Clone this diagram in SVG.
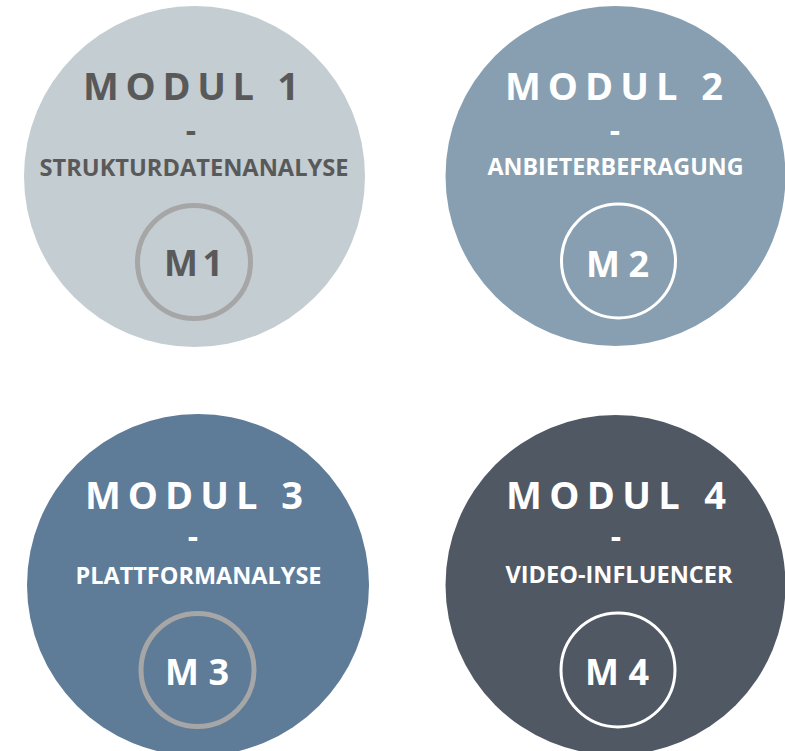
<svg xmlns="http://www.w3.org/2000/svg" width="785" height="751" viewBox="0 0 785 751">
<style>
  text { font-family: "Open Sans", "Noto Sans", "Liberation Sans", sans-serif; font-weight: 700; text-anchor: middle; }
  .title { font-size: 38px; }
  .dash { font-size: 32px; }
  .sub { font-size: 23px; }
  .code { font-size: 36px; }
  .dark { fill: #595959; }
  .light { fill: #ffffff; }
  .ringGray { fill: none; stroke: #a6a6a6; stroke-width: 5; }
  .ringWhite { fill: none; stroke: #ffffff; stroke-width: 3; }
</style>
<rect width="785" height="751" fill="#ffffff"/>
<g id="modul1">
  <circle cx="194.5" cy="176.5" r="170.5" fill="#c3cdd2"/>
  <text class="title dark" x="191" y="100" textLength="216" lengthAdjust="spacing">MODUL 1</text>
  <text class="dash dark" x="191" y="142">-</text>
  <text class="sub dark" x="194" y="176" textLength="309" lengthAdjust="spacingAndGlyphs">STRUKTURDATENANALYSE</text>
  <circle class="ringGray" cx="194" cy="262" r="56.5"/>
  <text class="code dark" x="193.5" y="276" textLength="59" lengthAdjust="spacing">M1</text>
</g>
<g id="modul2">
  <circle cx="615.5" cy="176" r="170" fill="#879fb1"/>
  <text class="title light" x="614" y="100" textLength="218" lengthAdjust="spacing">MODUL 2</text>
  <text class="dash light" x="615" y="142">-</text>
  <text class="sub light" x="615.5" y="175" textLength="256" lengthAdjust="spacingAndGlyphs">ANBIETERBEFRAGUNG</text>
  <circle class="ringWhite" cx="618.5" cy="261" r="57"/>
  <text class="code light" x="617.5" y="277" textLength="63" lengthAdjust="spacing">M2</text>
</g>
<g id="modul3">
  <circle cx="198" cy="585" r="171" fill="#5e7b98"/>
  <text class="title light" x="194" y="509" textLength="218" lengthAdjust="spacing">MODUL 3</text>
  <text class="dash light" x="193" y="548">-</text>
  <text class="sub light" x="198.5" y="584" textLength="246" lengthAdjust="spacingAndGlyphs">PLATTFORMANALYSE</text>
  <circle class="ringGray" cx="197.5" cy="670" r="56.5"/>
  <text class="code light" x="197" y="685" textLength="64" lengthAdjust="spacing">M3</text>
</g>
<g id="modul4">
  <circle cx="615.5" cy="585" r="170" fill="#505864"/>
  <text class="title light" x="616" y="509" textLength="220" lengthAdjust="spacing">MODUL 4</text>
  <text class="dash light" x="616" y="548">-</text>
  <text class="sub light" x="619" y="583" textLength="227" lengthAdjust="spacingAndGlyphs">VIDEO-INFLUENCER</text>
  <circle class="ringWhite" cx="618" cy="670" r="57"/>
  <text class="code light" x="617" y="685" textLength="64" lengthAdjust="spacing">M4</text>
</g>
<g id="connectors"></g>
</svg>
